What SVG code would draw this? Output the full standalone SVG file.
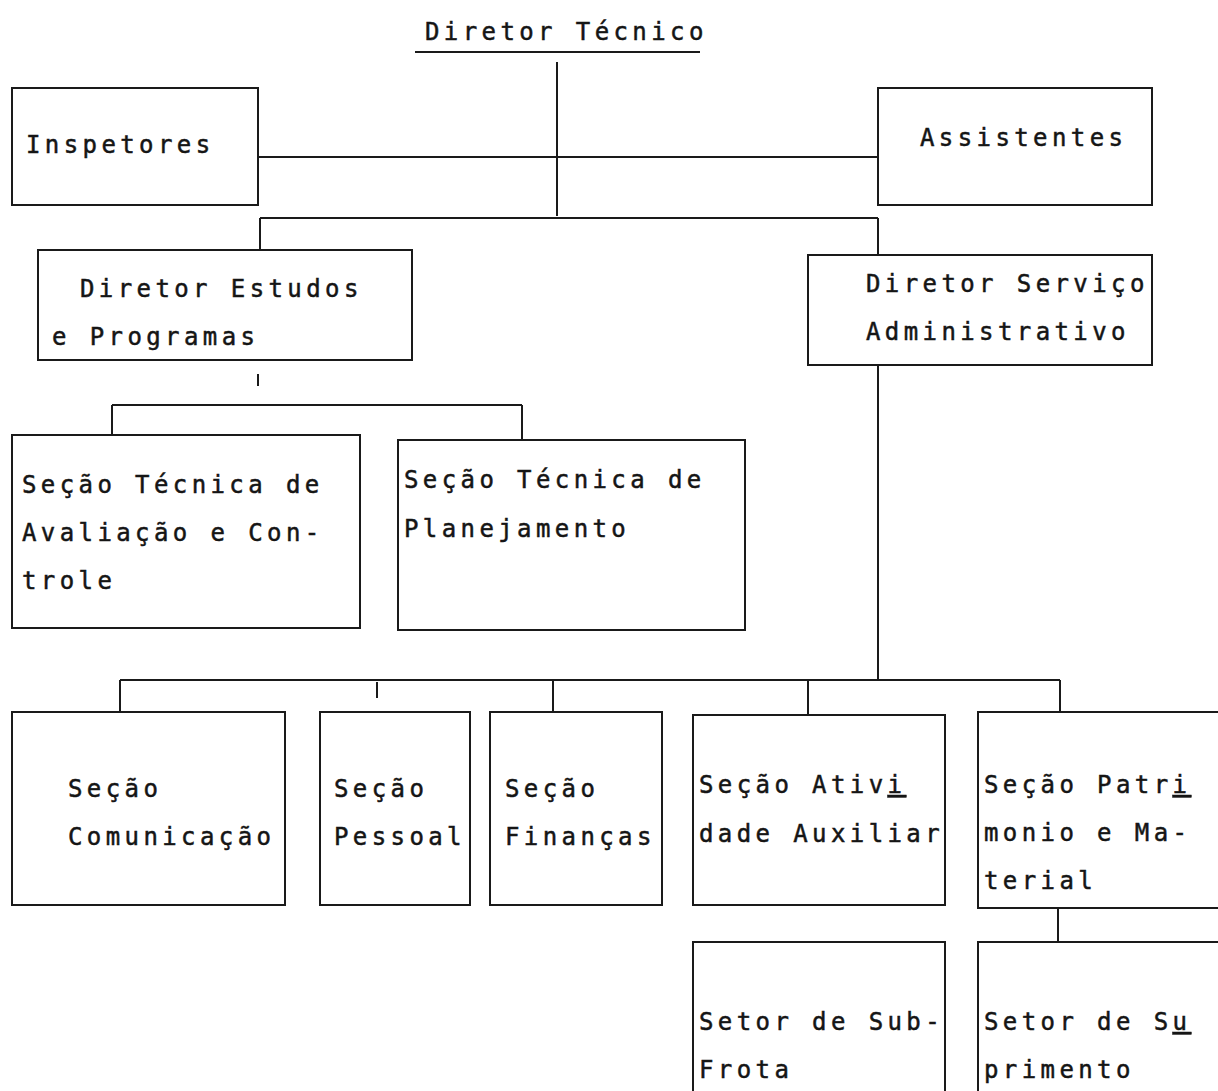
<svg xmlns="http://www.w3.org/2000/svg" width="1218" height="1091" viewBox="0 0 1218 1091">
<style>
.t{font-family:"DejaVu Sans Mono","Liberation Mono",monospace;font-size:24px;letter-spacing:4.4px;fill:#151515;stroke:#151515;stroke-width:0.5}
.b{fill:none;stroke:#1a1a1a;stroke-width:2}
.c{fill:none;stroke:#1a1a1a;stroke-width:2}
.u{text-decoration:underline}
</style>
<rect width="1218" height="1091" fill="#fff"/>
<g id="connectors">
<line class="c" x1="415" y1="52" x2="700" y2="52"/>
<line class="c" x1="557" y1="62" x2="557" y2="216"/>
<line class="c" x1="258" y1="157" x2="878" y2="157"/>
<line class="c" x1="260" y1="218" x2="878" y2="218"/>
<line class="c" x1="260" y1="218" x2="260" y2="250"/>
<line class="c" x1="878" y1="218" x2="878" y2="255"/>
<line class="c" x1="258" y1="374" x2="258" y2="386"/>
<line class="c" x1="112" y1="405" x2="522" y2="405"/>
<line class="c" x1="112" y1="405" x2="112" y2="435"/>
<line class="c" x1="522" y1="405" x2="522" y2="440"/>
<line class="c" x1="878" y1="365" x2="878" y2="680"/>
<line class="c" x1="120" y1="680" x2="1060" y2="680"/>
<line class="c" x1="120" y1="680" x2="120" y2="712"/>
<line class="c" x1="377" y1="682" x2="377" y2="698"/>
<line class="c" x1="553" y1="680" x2="553" y2="712"/>
<line class="c" x1="808" y1="680" x2="808" y2="715"/>
<line class="c" x1="1060" y1="680" x2="1060" y2="712"/>
<line class="c" x1="1058" y1="908" x2="1058" y2="942"/>
</g>
<g id="diretor-tecnico"><text class="t" x="425" y="40">Diretor Técnico</text></g>
<g id="inspetores"><rect class="b" x="12" y="88" width="246" height="117"/><text class="t" x="26" y="153">Inspetores</text></g>
<g id="assistentes"><rect class="b" x="878" y="88" width="274" height="117"/><text class="t" x="920" y="146">Assistentes</text></g>
<g id="diretor-estudos"><rect class="b" x="38" y="250" width="374" height="110"/><text class="t" x="80" y="297">Diretor Estudos</text><text class="t" x="52" y="345">e Programas</text></g>
<g id="diretor-servico"><rect class="b" x="808" y="255" width="344" height="110"/><text class="t" x="866" y="292">Diretor Serviço</text><text class="t" x="866" y="340">Administrativo</text></g>
<g id="secao-avaliacao"><rect class="b" x="12" y="435" width="348" height="193"/><text class="t" x="22" y="493">Seção Técnica de</text><text class="t" x="22" y="541">Avaliação e Con-</text><text class="t" x="22" y="589">trole</text></g>
<g id="secao-planejamento"><rect class="b" x="398" y="440" width="347" height="190"/><text class="t" x="404" y="488">Seção Técnica de</text><text class="t" x="404" y="537">Planejamento</text></g>
<g id="secao-comunicacao"><rect class="b" x="12" y="712" width="273" height="193"/><text class="t" x="68" y="797">Seção</text><text class="t" x="68" y="845">Comunicação</text></g>
<g id="secao-pessoal"><rect class="b" x="320" y="712" width="150" height="193"/><text class="t" x="334" y="797">Seção</text><text class="t" x="334" y="845">Pessoal</text></g>
<g id="secao-financas"><rect class="b" x="490" y="712" width="172" height="193"/><text class="t" x="505" y="797">Seção</text><text class="t" x="505" y="845">Finanças</text></g>
<g id="secao-atividade"><rect class="b" x="693" y="715" width="252" height="190"/><text class="t" x="699" y="793">Seção Ativ<tspan class="u">i</tspan></text><text class="t" x="699" y="842">dade Auxiliar</text></g>
<g id="secao-patrimonio"><rect class="b" x="978" y="712" width="250" height="196"/><text class="t" x="984" y="793">Seção Patr<tspan class="u">i</tspan></text><text class="t" x="984" y="841">monio e Ma-</text><text class="t" x="984" y="889">terial</text></g>
<g id="setor-frota"><rect class="b" x="693" y="942" width="252" height="160"/><text class="t" x="699" y="1030">Setor de Sub-</text><text class="t" x="699" y="1078">Frota</text></g>
<g id="setor-suprimento"><rect class="b" x="978" y="942" width="250" height="160"/><text class="t" x="984" y="1030">Setor de S<tspan class="u">u</tspan></text><text class="t" x="984" y="1078">primento</text></g>
</svg>
